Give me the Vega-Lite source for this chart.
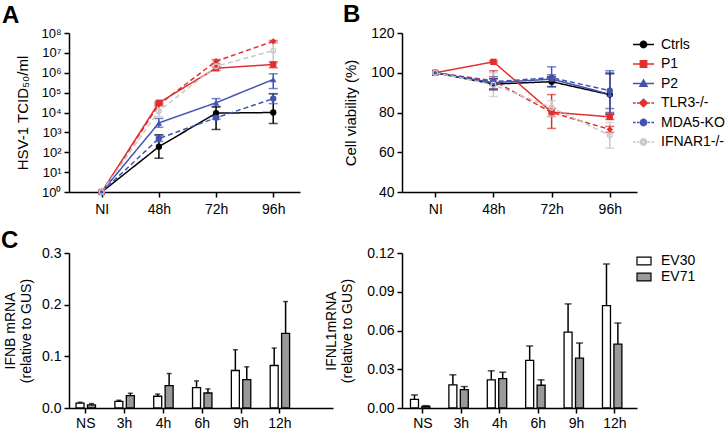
{
  "$schema": "https://vega.github.io/schema/vega-lite/v6.json",
  "padding": {"left": 1, "top": 3, "right": 0, "bottom": 0},
  "config": {
    "font": "Liberation Sans",
    "view": {"stroke": null},
    "axis": {"domainColor": "#000", "domainWidth": 1.5, "tickColor": "#000", "tickWidth": 1.5, "tickSize": 5, "labelColor": "#000", "labelFontSize": 14, "titleColor": "#000", "titleFontSize": 15, "titleFontWeight": "normal", "grid": false, "labelPadding": 3},
    "legend": {"labelFontSize": 14, "labelColor": "#000", "padding": 0},
    "title": {"fontSize": 24, "fontWeight": "bold", "anchor": "start", "offset": 0, "color": "#000", "frame": "group"}
  },
  "datasets": {
    "a": [
      {"group": "Ctrls", "time": "NI", "value": 1},
      {"group": "Ctrls", "time": "48h", "value": 190, "lo": 50, "hi": 760},
      {"group": "Ctrls", "time": "72h", "value": 9300, "lo": 1400, "hi": 19000},
      {"group": "Ctrls", "time": "96h", "value": 10000, "lo": 2800, "hi": 87000},
      {"group": "P1", "time": "NI", "value": 1},
      {"group": "P1", "time": "48h", "value": 31000, "lo": 25000, "hi": 35000},
      {"group": "P1", "time": "72h", "value": 1700000, "lo": 1300000, "hi": 2000000},
      {"group": "P1", "time": "96h", "value": 2600000, "lo": 1800000, "hi": 3500000},
      {"group": "P2", "time": "NI", "value": 1},
      {"group": "P2", "time": "48h", "value": 3000, "lo": 1800, "hi": 5000},
      {"group": "P2", "time": "72h", "value": 31000, "lo": 20000, "hi": 50000},
      {"group": "P2", "time": "96h", "value": 460000, "lo": 160000, "hi": 890000},
      {"group": "TLR3-/-", "time": "NI", "value": 1},
      {"group": "TLR3-/-", "time": "48h", "value": 25000, "lo": 22000, "hi": 29000},
      {"group": "TLR3-/-", "time": "72h", "value": 3800000, "lo": 2800000, "hi": 4600000},
      {"group": "TLR3-/-", "time": "96h", "value": 38000000, "lo": 33000000, "hi": 42000000},
      {"group": "MDA5-KO", "time": "NI", "value": 1},
      {"group": "MDA5-KO", "time": "48h", "value": 490, "lo": 350, "hi": 700},
      {"group": "MDA5-KO", "time": "72h", "value": 5400, "lo": 4600, "hi": 6300},
      {"group": "MDA5-KO", "time": "96h", "value": 50000, "lo": 28000, "hi": 89000},
      {"group": "IFNAR1-/-", "time": "NI", "value": 1},
      {"group": "IFNAR1-/-", "time": "48h", "value": 12000, "lo": 6300, "hi": 20000},
      {"group": "IFNAR1-/-", "time": "72h", "value": 2100000, "lo": 1300000, "hi": 3500000},
      {"group": "IFNAR1-/-", "time": "96h", "value": 13000000, "lo": 3200000, "hi": 32000000}
    ],
    "b": [
      {"group": "Ctrls", "time": "NI", "value": 100},
      {"group": "Ctrls", "time": "48h", "value": 94.3, "lo": 91.5, "hi": 97},
      {"group": "Ctrls", "time": "72h", "value": 95.5, "lo": 93, "hi": 98},
      {"group": "Ctrls", "time": "96h", "value": 89, "lo": 79, "hi": 99.5},
      {"group": "P1", "time": "NI", "value": 100},
      {"group": "P1", "time": "48h", "value": 105.5, "lo": 105, "hi": 106},
      {"group": "P1", "time": "72h", "value": 80.2, "lo": 72, "hi": 89},
      {"group": "P1", "time": "96h", "value": 77.8, "lo": 76.5, "hi": 79.5},
      {"group": "P2", "time": "NI", "value": 100},
      {"group": "P2", "time": "48h", "value": 95, "lo": 92, "hi": 98},
      {"group": "P2", "time": "72h", "value": 96.8, "lo": 93, "hi": 103},
      {"group": "P2", "time": "96h", "value": 89.2, "lo": 80, "hi": 101},
      {"group": "TLR3-/-", "time": "NI", "value": 100},
      {"group": "TLR3-/-", "time": "48h", "value": 96, "lo": 91.5, "hi": 101},
      {"group": "TLR3-/-", "time": "72h", "value": 80, "lo": 78, "hi": 82},
      {"group": "TLR3-/-", "time": "96h", "value": 71.5, "lo": 70, "hi": 73},
      {"group": "MDA5-KO", "time": "NI", "value": 100},
      {"group": "MDA5-KO", "time": "48h", "value": 95.5, "lo": 94, "hi": 97},
      {"group": "MDA5-KO", "time": "72h", "value": 97.5, "lo": 95.5, "hi": 99},
      {"group": "MDA5-KO", "time": "96h", "value": 91, "lo": 82, "hi": 100},
      {"group": "IFNAR1-/-", "time": "NI", "value": 100},
      {"group": "IFNAR1-/-", "time": "48h", "value": 94, "lo": 88, "hi": 100},
      {"group": "IFNAR1-/-", "time": "72h", "value": 82.5, "lo": 78, "hi": 86},
      {"group": "IFNAR1-/-", "time": "96h", "value": 68.5, "lo": 62, "hi": 75}
    ],
    "c1": [
      {"time": "NS", "virus": "EV30", "value": 0.0095, "hi": 0.011},
      {"time": "NS", "virus": "EV71", "value": 0.006, "hi": 0.0085},
      {"time": "3h", "virus": "EV30", "value": 0.013, "hi": 0.015},
      {"time": "3h", "virus": "EV71", "value": 0.024, "hi": 0.0285},
      {"time": "4h", "virus": "EV30", "value": 0.0227, "hi": 0.027},
      {"time": "4h", "virus": "EV71", "value": 0.0434, "hi": 0.0667},
      {"time": "6h", "virus": "EV30", "value": 0.0395, "hi": 0.0525},
      {"time": "6h", "virus": "EV71", "value": 0.029, "hi": 0.037},
      {"time": "9h", "virus": "EV30", "value": 0.0726, "hi": 0.1128},
      {"time": "9h", "virus": "EV71", "value": 0.055, "hi": 0.0797},
      {"time": "12h", "virus": "EV30", "value": 0.0823, "hi": 0.116},
      {"time": "12h", "virus": "EV71", "value": 0.1445, "hi": 0.206}
    ],
    "c2": [
      {"time": "NS", "virus": "EV30", "value": 0.0067, "hi": 0.0101},
      {"time": "NS", "virus": "EV71", "value": 0.0013, "hi": 0.0018},
      {"time": "3h", "virus": "EV30", "value": 0.0179, "hi": 0.0257},
      {"time": "3h", "virus": "EV71", "value": 0.0143, "hi": 0.0166},
      {"time": "4h", "virus": "EV30", "value": 0.0218, "hi": 0.0288},
      {"time": "4h", "virus": "EV71", "value": 0.0228, "hi": 0.0277},
      {"time": "6h", "virus": "EV30", "value": 0.0368, "hi": 0.048},
      {"time": "6h", "virus": "EV71", "value": 0.0176, "hi": 0.0218},
      {"time": "9h", "virus": "EV30", "value": 0.0588, "hi": 0.0806},
      {"time": "9h", "virus": "EV71", "value": 0.0386, "hi": 0.0503},
      {"time": "12h", "virus": "EV30", "value": 0.0793, "hi": 0.1115},
      {"time": "12h", "virus": "EV71", "value": 0.0495, "hi": 0.0658}
    ]
  },
  "columns": 2,
  "spacing": {"row": 61, "column": 69},
  "bounds": "flush",
  "resolve": {"scale": {"fill": "independent"}, "legend": {"fill": "independent"}},
  "concat": [
    {
      "width": 231, "height": 159,
      "title": {"text": "A", "dx": -67, "dy": 5},
      "data": {"name": "a"},
      "encoding": {
        "x": {"field": "time", "type": "ordinal", "sort": ["NI", "48h", "72h", "96h"], "scale": {"type": "point", "padding": 0.52, "align": 0.55}, "axis": {"title": null, "labelAngle": 0, "labelPadding": 5}},
        "color": {"field": "group", "type": "nominal", "scale": {"domain": ["Ctrls", "P1", "P2", "TLR3-/-", "MDA5-KO", "IFNAR1-/-"], "range": ["#000000", "#e0302e", "#4254b0", "#e0302e", "#4254b0", "#c8c8c8"]}, "legend": null}
      },
      "layer": [
        {"transform": [{"filter": "isValid(datum.lo)"}], "mark": {"type": "rule", "strokeWidth": 1.5},
         "encoding": {"y": {"field": "lo", "type": "quantitative", "scale": {"type": "log", "domain": [1, 100000000]}, "axis": {"title": "HSV-1 TCID₅₀/ml", "values": [1, 10, 100, 1000, 10000, 100000, 1000000, 10000000, 100000000], "labelExpr": "'10' + ['⁰','¹','²','³','⁴','⁵','⁶','⁷','⁸'][round(log(datum.value)/LN10)]", "labelFontSize": 13, "titlePadding": 10}}, "y2": {"field": "hi"}}},
        {"transform": [{"filter": "isValid(datum.lo)"}], "mark": {"type": "tick", "size": 9, "thickness": 1.5},
         "encoding": {"y": {"field": "lo", "type": "quantitative", "axis": {"title": "HSV-1 TCID₅₀/ml", "values": [1, 10, 100, 1000, 10000, 100000, 1000000, 10000000, 100000000], "labelExpr": "'10' + ['⁰','¹','²','³','⁴','⁵','⁶','⁷','⁸'][round(log(datum.value)/LN10)]", "labelFontSize": 13, "titlePadding": 10}}}},
        {"transform": [{"filter": "isValid(datum.lo)"}], "mark": {"type": "tick", "size": 9, "thickness": 1.5},
         "encoding": {"y": {"field": "hi", "type": "quantitative", "axis": {"title": "HSV-1 TCID₅₀/ml", "values": [1, 10, 100, 1000, 10000, 100000, 1000000, 10000000, 100000000], "labelExpr": "'10' + ['⁰','¹','²','³','⁴','⁵','⁶','⁷','⁸'][round(log(datum.value)/LN10)]", "labelFontSize": 13, "titlePadding": 10}}}},
        {"mark": {"type": "line", "strokeWidth": 1.5},
         "encoding": {"y": {"field": "value", "type": "quantitative", "axis": {"title": "HSV-1 TCID₅₀/ml", "values": [1, 10, 100, 1000, 10000, 100000, 1000000, 10000000, 100000000], "labelExpr": "'10' + ['⁰','¹','²','³','⁴','⁵','⁶','⁷','⁸'][round(log(datum.value)/LN10)]", "labelFontSize": 13, "titlePadding": 10}}, "strokeDash": {"field": "group", "type": "nominal", "scale": {"domain": ["Ctrls", "P1", "P2", "TLR3-/-", "MDA5-KO", "IFNAR1-/-"], "range": [[1, 0], [1, 0], [1, 0], [5, 3], [5, 3], [5, 3]]}, "legend": null}}},
        {"mark": {"type": "point", "filled": true, "opacity": 1, "size": 40},
         "encoding": {"y": {"field": "value", "type": "quantitative", "axis": {"title": "HSV-1 TCID₅₀/ml", "values": [1, 10, 100, 1000, 10000, 100000, 1000000, 10000000, 100000000], "labelExpr": "'10' + ['⁰','¹','²','³','⁴','⁵','⁶','⁷','⁸'][round(log(datum.value)/LN10)]", "labelFontSize": 13, "titlePadding": 10}}, "shape": {"field": "group", "type": "nominal", "scale": {"domain": ["Ctrls", "P1", "P2", "TLR3-/-", "MDA5-KO", "IFNAR1-/-"], "range": ["circle", "square", "triangle-up", "diamond", "circle", "M-1,0A1,1,0,1,1,1,0A1,1,0,1,1,-1,0ZM-0.55,0A0.55,0.55,0,1,0,0.55,0A0.55,0.55,0,1,0,-0.55,0Z"]}, "legend": null}}}
      ]
    },
    {
      "width": 235, "height": 159,
      "title": {"text": "B", "dx": -59, "dy": 5},
      "data": {"name": "b"},
      "encoding": {
        "x": {"field": "time", "type": "ordinal", "sort": ["NI", "48h", "72h", "96h"], "scale": {"type": "point", "padding": 0.52, "align": 0.55}, "axis": {"title": null, "labelAngle": 0, "labelPadding": 5}}
      },
      "layer": [
        {"transform": [{"filter": "isValid(datum.lo)"}], "mark": {"type": "rule", "strokeWidth": 1.5},
         "encoding": {"y": {"field": "lo", "type": "quantitative", "scale": {"domain": [40, 120]}, "axis": {"title": "Cell viability (%)", "values": [40, 60, 80, 100, 120], "titlePadding": 12}}, "y2": {"field": "hi"},
           "color": {"field": "group", "type": "nominal", "scale": {"domain": ["Ctrls", "P1", "P2", "TLR3-/-", "MDA5-KO", "IFNAR1-/-"], "range": ["#000000", "#e0302e", "#4254b0", "#e0302e", "#4254b0", "#c8c8c8"]}, "legend": null}}},
        {"transform": [{"filter": "isValid(datum.lo)"}], "mark": {"type": "tick", "size": 9, "thickness": 1.5},
         "encoding": {"y": {"field": "lo", "type": "quantitative", "axis": {"title": "Cell viability (%)", "values": [40, 60, 80, 100, 120], "titlePadding": 12}}, "color": {"field": "group", "type": "nominal", "legend": null}}},
        {"transform": [{"filter": "isValid(datum.lo)"}], "mark": {"type": "tick", "size": 9, "thickness": 1.5},
         "encoding": {"y": {"field": "hi", "type": "quantitative", "axis": {"title": "Cell viability (%)", "values": [40, 60, 80, 100, 120], "titlePadding": 12}}, "color": {"field": "group", "type": "nominal", "legend": null}}},
        {"mark": {"type": "line", "strokeWidth": 1.5},
         "encoding": {"y": {"field": "value", "type": "quantitative", "axis": {"title": "Cell viability (%)", "values": [40, 60, 80, 100, 120], "titlePadding": 12}}, "color": {"field": "group", "type": "nominal", "legend": null}, "strokeDash": {"field": "group", "type": "nominal", "scale": {"domain": ["Ctrls", "P1", "P2", "TLR3-/-", "MDA5-KO", "IFNAR1-/-"], "range": [[1, 0], [1, 0], [1, 0], [5, 3], [5, 3], [5, 3]]}, "legend": null}}},
        {"mark": {"type": "point", "filled": true, "opacity": 1, "size": 40},
         "encoding": {"y": {"field": "value", "type": "quantitative", "axis": {"title": "Cell viability (%)", "values": [40, 60, 80, 100, 120], "titlePadding": 12}}, "color": {"field": "group", "type": "nominal", "legend": null}, "shape": {"field": "group", "type": "nominal", "scale": {"domain": ["Ctrls", "P1", "P2", "TLR3-/-", "MDA5-KO", "IFNAR1-/-"], "range": ["circle", "square", "triangle-up", "diamond", "circle", "M-1,0A1,1,0,1,1,1,0A1,1,0,1,1,-1,0ZM-0.55,0A0.55,0.55,0,1,0,0.55,0A0.55,0.55,0,1,0,-0.55,0Z"]}, "legend": null}}},
        {"transform": [{"filter": "false"}], "mark": {"type": "point", "filled": true, "opacity": 1, "strokeWidth": 1.5},
         "encoding": {
           "y": {"field": "value", "type": "quantitative", "axis": {"title": "Cell viability (%)", "values": [40, 60, 80, 100, 120], "titlePadding": 12}},
           "fill": {"field": "group", "type": "nominal", "scale": {"domain": ["Ctrls", "P1", "P2", "TLR3-/-", "MDA5-KO", "IFNAR1-/-"], "range": ["#000000", "#e0302e", "#4254b0", "#e0302e", "#4254b0", "#c8c8c8"]}, "legend": {"title": null, "orient": "right", "offset": -5, "symbolSize": 441, "symbolStrokeWidth": 1.5, "labelOffset": 6, "rowPadding": 0.5, "labelFontSize": 14}},
           "stroke": {"field": "group", "type": "nominal", "scale": {"domain": ["Ctrls", "P1", "P2", "TLR3-/-", "MDA5-KO", "IFNAR1-/-"], "range": ["#000000", "#e0302e", "#4254b0", "#e0302e", "#4254b0", "#c8c8c8"]}, "legend": {"title": null, "orient": "right", "offset": -5, "symbolSize": 441, "symbolStrokeWidth": 1.5, "labelOffset": 6, "rowPadding": 0.5, "labelFontSize": 14}},
           "shape": {"field": "group", "type": "nominal", "scale": {"domain": ["Ctrls", "P1", "P2", "TLR3-/-", "MDA5-KO", "IFNAR1-/-"], "range": [
             "M-1,0H1M-0.3,0A0.3,0.3,0,1,1,0.3,0A0.3,0.3,0,1,1,-0.3,0Z",
             "M-1,0H1M-0.3,-0.3H0.3V0.3H-0.3Z",
             "M-1,0H1M0,-0.34L0.34,0.26H-0.34Z",
             "M-1,0H-0.75M-0.62,0H-0.4M0.4,0H0.62M0.75,0H1M0,-0.36L0.36,0L0,0.36L-0.36,0Z",
             "M-1,0H-0.75M-0.62,0H-0.4M0.4,0H0.62M0.75,0H1M-0.3,0A0.3,0.3,0,1,1,0.3,0A0.3,0.3,0,1,1,-0.3,0Z",
             "M-1,0H-0.75M-0.62,0H-0.4M0.4,0H0.62M0.75,0H1M-0.3,0A0.3,0.3,0,1,1,0.3,0A0.3,0.3,0,1,1,-0.3,0ZM-0.14,0A0.14,0.14,0,1,0,0.14,0A0.14,0.14,0,1,0,-0.14,0Z"
           ]}, "legend": {"title": null, "orient": "right", "offset": -5, "symbolSize": 441, "symbolStrokeWidth": 1.5, "labelOffset": 6, "rowPadding": 0.5, "labelFontSize": 14}}
         }}
      ],
      "resolve": {"scale": {"shape": "independent", "fill": "independent", "stroke": "independent"}}
    },
    {
      "width": 264, "height": 155,
      "title": {"text": "C", "dx": -68, "dy": 11},
      "data": {"name": "c1"},
      "encoding": {
        "x": {"field": "time", "type": "nominal", "sort": ["NS", "3h", "4h", "6h", "9h", "12h"], "scale": {"paddingInner": 0.5, "paddingOuter": 0.65, "align": 0.14}, "axis": {"title": null, "labelAngle": 0, "labelPadding": 3}},
        "xOffset": {"field": "virus", "type": "nominal", "sort": ["EV30", "EV71"], "scale": {"paddingInner": 0.3}}
      },
      "layer": [
        {"mark": {"type": "rule", "strokeWidth": 1.5, "color": "#000"},
         "encoding": {"y": {"field": "value", "type": "quantitative", "scale": {"domain": [0, 0.3]}, "axis": {"title": ["IFNB mRNA", "(relative to GUS)"], "titleFontSize": 14, "titleLineHeight": 16, "values": [0, 0.1, 0.2, 0.3], "format": ".1f", "titlePadding": 8}}, "y2": {"field": "hi"}}},
        {"mark": {"type": "tick", "size": 5, "thickness": 1.5, "color": "#000"},
         "encoding": {"y": {"field": "hi", "type": "quantitative", "axis": {"title": ["IFNB mRNA", "(relative to GUS)"], "titleFontSize": 14, "titleLineHeight": 16, "values": [0, 0.1, 0.2, 0.3], "format": ".1f", "titlePadding": 8}}}},
        {"mark": {"type": "bar", "stroke": "#000", "strokeWidth": 1.3},
         "encoding": {"y": {"field": "value", "type": "quantitative", "axis": {"title": ["IFNB mRNA", "(relative to GUS)"], "titleFontSize": 14, "titleLineHeight": 16, "values": [0, 0.1, 0.2, 0.3], "format": ".1f", "titlePadding": 8}}, "fill": {"field": "virus", "type": "nominal", "scale": {"domain": ["EV30", "EV71"], "range": ["#ffffff", "#999999"]}, "legend": null}}}
      ]
    },
    {
      "width": 235, "height": 155,
      "data": {"name": "c2"},
      "encoding": {
        "x": {"field": "time", "type": "nominal", "sort": ["NS", "3h", "4h", "6h", "9h", "12h"], "scale": {"paddingInner": 0.35, "paddingOuter": 0.235, "align": 0.47}, "axis": {"title": null, "labelAngle": 0, "labelPadding": 3}},
        "xOffset": {"field": "virus", "type": "nominal", "sort": ["EV30", "EV71"], "scale": {"paddingInner": 0.25}}
      },
      "layer": [
        {"mark": {"type": "rule", "strokeWidth": 1.5, "color": "#000"},
         "encoding": {"y": {"field": "value", "type": "quantitative", "scale": {"domain": [0, 0.12]}, "axis": {"title": ["IFNL1mRNA", "(relative to GUS)"], "titleFontSize": 14, "titleLineHeight": 16, "values": [0, 0.03, 0.06, 0.09, 0.12], "format": ".2f", "titlePadding": 12}}, "y2": {"field": "hi"}}},
        {"mark": {"type": "tick", "size": 7, "thickness": 1.5, "color": "#000"},
         "encoding": {"y": {"field": "hi", "type": "quantitative", "axis": {"title": ["IFNL1mRNA", "(relative to GUS)"], "titleFontSize": 14, "titleLineHeight": 16, "values": [0, 0.03, 0.06, 0.09, 0.12], "format": ".2f", "titlePadding": 12}}}},
        {"mark": {"type": "bar", "stroke": "#000", "strokeWidth": 1.3},
         "encoding": {"y": {"field": "value", "type": "quantitative", "axis": {"title": ["IFNL1mRNA", "(relative to GUS)"], "titleFontSize": 14, "titleLineHeight": 16, "values": [0, 0.03, 0.06, 0.09, 0.12], "format": ".2f", "titlePadding": 12}}, "fill": {"field": "virus", "type": "nominal", "scale": {"domain": ["EV30", "EV71"], "range": ["#ffffff", "#999999"]}, "legend": {"title": null, "orient": "right", "offset": -1, "symbolType": "M-1,-0.55H1V0.55H-1Z", "symbolSize": 196, "symbolStrokeColor": "#000", "symbolStrokeWidth": 1.2, "labelFontSize": 14, "labelOffset": 9, "rowPadding": 1}}}}
      ]
    }
  ]
}
